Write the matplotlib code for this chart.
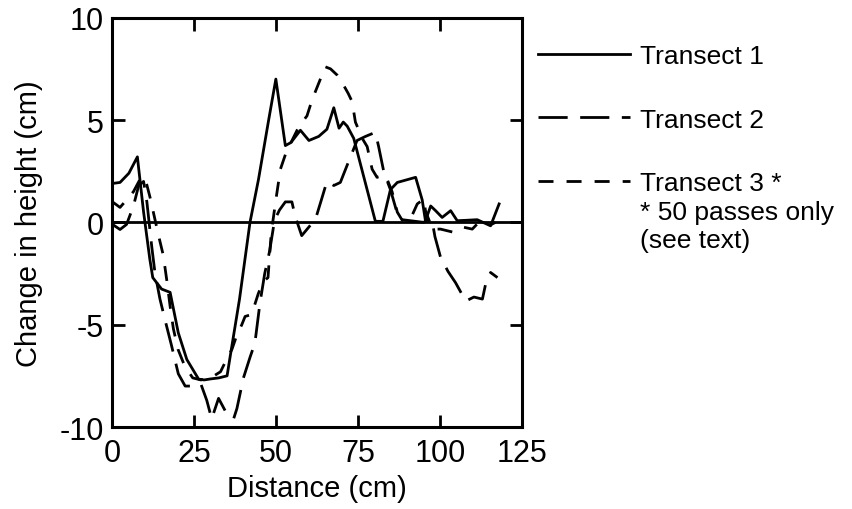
import numpy as np
import matplotlib
matplotlib.use('Agg')
import matplotlib.pyplot as plt

plt.rcParams['font.family'] = ['Liberation Sans', 'DejaVu Sans']
plt.rcParams['axes.unicode_minus'] = False

# Transect 1 (solid)
t1_x = [0, 2.3, 5, 7.6, 9.5, 11.4, 12.3, 15, 17.6, 20.1, 22.7, 26.3, 28, 30, 32.5, 35, 36,
        38.8, 42, 44.6, 47.7, 49.9, 52.8, 54.5, 57.4, 60, 63, 65.5, 67.6, 69.2, 70.5, 71.7,
        73.7, 80.3, 82.6, 84.9, 87, 92.6, 94.6, 95.6, 97.2, 98.7, 100.7, 103.3, 105.3, 108,
        111.4, 115.5, 118.1]
t1_y = [1.9, 1.95, 2.4, 3.2, 0.5, -1.8, -2.7, -3.26, -3.42, -5.4, -6.7, -7.66, -7.7, -7.65,
        -7.6, -7.5, -6.5, -3.75, 0, 2.1, 5.0, 7.0, 3.75, 3.9, 4.5, 4.0, 4.2, 4.55, 5.6, 4.6,
        4.9, 4.7, 4.1, 0.05, 0.05, 1.6, 1.95, 2.2, 1.1, 0.08, 0.8, 0.57, 0.24, 0.57, 0.08, 0.1,
        0.13, -0.17, 0.9]

# Transect 2 (long dashes)
t2_x = [0, 2.3, 4.3, 6.4, 8, 9.5, 10.5, 12, 13, 14.5, 16.1, 18, 20.1, 22.2, 25.8, 27, 28.8,
        30.3, 32.4, 34.4, 37, 38, 40, 42, 43.5, 45, 46.5, 48, 49.5, 51, 52.8, 54.8, 55.8, 57.8,
        60.4, 62, 64, 65.5, 67.6, 69.6, 71.7, 73.7, 74.7, 77.3, 80.3, 81.3, 82.9, 84.9, 87.5,
        90, 95, 97.5, 98.5, 100.2, 102.5, 104.8, 107.9, 110.4, 113, 114, 115.5, 117.6]
t2_y = [-0.1, -0.35, -0.1, 0.8, 1.8, 2.0, 1.0, -1.2, -2.5, -3.75, -4.8, -6.0, -7.4, -8.0, -8.0,
        -7.9, -8.7, -9.6, -8.6, -9.2, -9.6, -9.1, -7.6, -6.6, -5.9, -4.0, -2.5, -1.4, 0.1, 0.6,
        1.0, 1.0, 0.3, -0.65, -0.15, 0.15, 1.2, 2.0, 1.8, 1.95, 2.8, 3.6, 4.0, 4.2, 4.4, 3.7,
        2.45, 1.6, 0.15, 0.1, 0.0, 0.2, -0.7, -1.7, -2.4, -2.95, -3.85, -3.65, -3.75, -3.0,
        -2.45, -2.7]

# Transect 3 (short dashes), 50 passes only
t3_x = [0, 2.3, 4.3, 6.4, 8.4, 9.9, 11.5, 14, 15.5, 16.6, 17.6, 18.6, 20, 22, 24.5, 27, 30,
        33, 34.4, 36.5, 38, 39.5, 40.5, 42.5, 44.5, 46, 47.5, 48.5, 50, 51.3, 53, 55.3, 57,
        59.4, 61, 63, 65, 66.6, 68.6, 70.6, 72, 73.2, 74.2, 76.3, 77.8, 79.3, 80.8, 83.4,
        85.4, 87, 88.5, 91, 93.1, 95.1, 95.6, 97.7, 100.2, 104.3, 107.3, 109.9, 111.4, 115,
        117]
t3_y = [1.0, 0.73, 1.1, 1.5, 2.1, 2.2, 1.2, -0.6, -1.6, -2.85, -4.1, -5.2, -6.2, -7.0, -7.6,
        -7.7, -7.6, -7.3, -6.84, -6.2, -5.5, -5.0, -4.6, -4.5, -3.5, -2.9, -2.7, -0.5, 1.2,
        2.6, 3.4, 4.15, 4.7, 5.2, 6.0, 6.8, 7.6, 7.5, 7.2, 6.7, 6.3, 5.9, 4.9, 4.1, 3.7, 2.6,
        2.2, 2.3, 1.5, 0.5, 0.1, 0.16, 0.9, 1.14, 0.57, -0.33, -0.33, -0.49, -0.24, -0.33,
        -0.08, -0.16, 0.0]

x_ticks = [0, 25, 50, 75, 100, 125]
y_ticks = [-10, -5, 0, 5, 10]
labels = ['Transect 1', 'Transect 2', 'Transect 3 *']

fig = plt.figure(figsize=(8.52, 5.10), dpi=100)
ax = fig.add_axes([112.5 / 852, 1 - 428 / 510, (521.7 - 112.5) / 852, (428 - 18.7) / 510])

lw = 2
ax.axhline(0, color='black', lw=lw, zorder=1)
ax.plot(t1_x, t1_y, color='black', lw=lw, ls='-', label=labels[0])
ax.plot(t2_x, t2_y, color='black', lw=lw, ls=(0, (10.5, 4.5)), label=labels[1])
ax.plot(t3_x, t3_y, color='black', lw=lw, ls=(0, (5.4, 4.7)), label=labels[2])

ax.set_xlim(0, 125)
ax.set_ylim(-10, 10)
ax.set_xticks(x_ticks)
ax.set_yticks(y_ticks)
ax.tick_params(direction='in', length=9, width=2, top=True, right=True, labelsize=22)
ax.tick_params(axis='x', pad=8)
ax.tick_params(axis='y', pad=6)
for s in ax.spines.values():
    s.set_linewidth(2.2)

ax.set_xlabel('Distance (cm)', fontsize=21, labelpad=4)
ax.set_ylabel('Change in height (cm)', fontsize=21, labelpad=12)

ax.legend(loc='upper left', bbox_to_anchor=(538 / 852, 1 - 45 / 510),
          bbox_transform=fig.transFigure, frameon=False, fontsize=19,
          handlelength=3.5, handletextpad=0.35, labelspacing=1.5,
          borderpad=0, borderaxespad=0)
fig.text(640 / 852, 1 - 201 / 510, '* 50 passes only\n(see text)', fontsize=19,
         va='top', ha='left', linespacing=1.2)

fig.savefig('out.png', dpi=100)
